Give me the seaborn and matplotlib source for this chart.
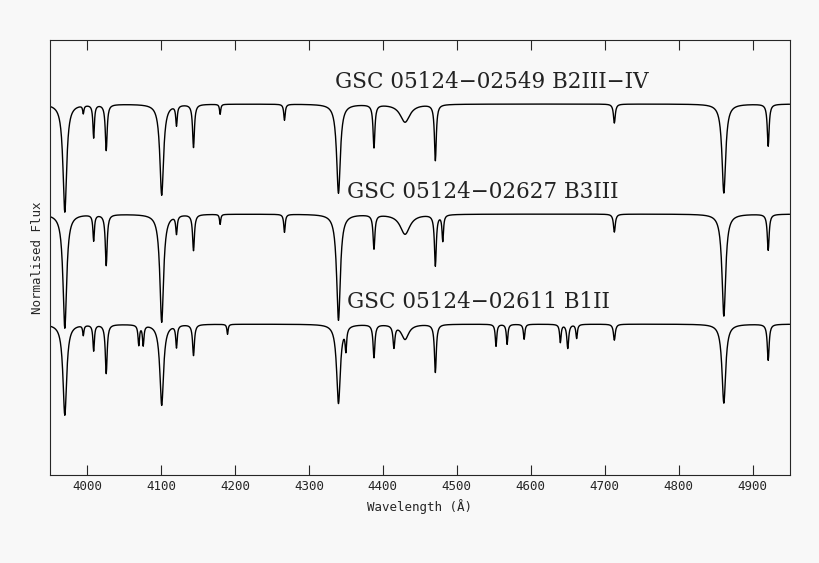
import numpy as np
import matplotlib.pyplot as plt
import seaborn as sns

# absorption lines: centre (A), depth (flux units), half width (A)
star_names = ["GSC 05124\u221202549 B2III\u2212IV",
              "GSC 05124\u221202627 B3III",
              "GSC 05124\u221202611 B1II"]
continuum = [3.71, 2.61, 1.51]

lines1_wl = [3970, 4009, 4026, 4101, 4121, 4144, 4267, 4340, 4388, 4430, 4471, 4713, 4861, 4921, 3995, 4180]
lines1_dp = [1.08, 0.33, 0.46, 0.91, 0.20, 0.43, 0.16, 0.89, 0.43, 0.18, 0.56, 0.19, 0.89, 0.42, 0.08, 0.10]
lines1_hw = [3.0, 1.2, 1.5, 3.0, 1.2, 1.5, 1.2, 3.0, 1.5, 8.0, 1.5, 1.5, 3.0, 1.5, 1.0, 1.0]

lines2_wl = [3970, 4009, 4026, 4101, 4121, 4144, 4267, 4340, 4388, 4430, 4471, 4481, 4713, 4861, 4921, 4180]
lines2_dp = [1.14, 0.26, 0.51, 1.08, 0.18, 0.36, 0.18, 1.06, 0.34, 0.20, 0.51, 0.26, 0.18, 1.02, 0.36, 0.10]
lines2_hw = [3.0, 1.2, 1.5, 3.0, 1.2, 1.5, 1.2, 3.0, 1.5, 8.0, 1.5, 1.2, 1.5, 3.0, 1.5, 1.0]

lines3_wl = [3970, 4009, 4026, 4070, 4076, 4101, 4121, 4144, 4340, 4350, 4388, 4415, 4430, 4471, 4553,
             4568, 4591, 4640, 4650, 4662, 4713, 4861, 4921, 3995, 4190]
lines3_dp = [0.91, 0.26, 0.49, 0.20, 0.20, 0.81, 0.22, 0.31, 0.79, 0.22, 0.33, 0.22, 0.15, 0.48, 0.22,
             0.20, 0.15, 0.18, 0.24, 0.14, 0.16, 0.79, 0.36, 0.10, 0.10]
lines3_hw = [3.0, 1.2, 1.5, 1.2, 1.2, 3.0, 1.2, 1.5, 3.0, 1.2, 1.5, 1.5, 6.0, 1.5, 1.2,
             1.2, 1.2, 1.2, 1.5, 1.2, 1.5, 3.0, 1.5, 1.0, 1.0]

line_sets = [(lines1_wl, lines1_dp, lines1_hw),
             (lines2_wl, lines2_dp, lines2_hw),
             (lines3_wl, lines3_dp, lines3_hw)]

wl = np.arange(3950, 4950.5, 0.5)

def spectrum(level, wls, dps, hws):
    flux = np.full_like(wl, level, dtype=float)
    for c, d, w in zip(wls, dps, hws):
        flux -= d / (1 + ((wl - c) / w) ** 2)
    return flux

sns.set_style("ticks")
fig = plt.figure(figsize=(8.2, 5.63), dpi=100, facecolor="#f8f8f8")
ax = fig.add_axes([0.061, 0.156, 0.902, 0.773])
ax.set_facecolor("#f8f8f8")

label_pos = [(4335, 3.93), (4351, 2.83), (4351, 1.73)]
for level, (wls, dps, hws), name, (lx, ly) in zip(continuum, line_sets, star_names, label_pos):
    sns.lineplot(x=wl, y=spectrum(level, wls, dps, hws), ax=ax, color="black", lw=1.0)
    ax.text(lx, ly, name, family="DejaVu Serif", fontsize=15.5, va="center", color="#222222")

ax.set_xlim(3950, 4950)
ax.set_ylim(0, 4.35)
ax.set_xticks(range(4000, 4901, 100))
ax.set_yticks([])
ax.tick_params(axis="x", direction="in", top=True, length=7, labelsize=9)
for s in ax.spines.values():
    s.set_linewidth(0.8)
ax.set_xlabel("Wavelength (\u00c5)", family="DejaVu Sans Mono", fontsize=9)
ax.set_ylabel("Normalised Flux", family="DejaVu Sans Mono", fontsize=9)
for t in ax.get_xticklabels():
    t.set_family("DejaVu Sans Mono")

fig.savefig("out.png", dpi=100, facecolor=fig.get_facecolor())
